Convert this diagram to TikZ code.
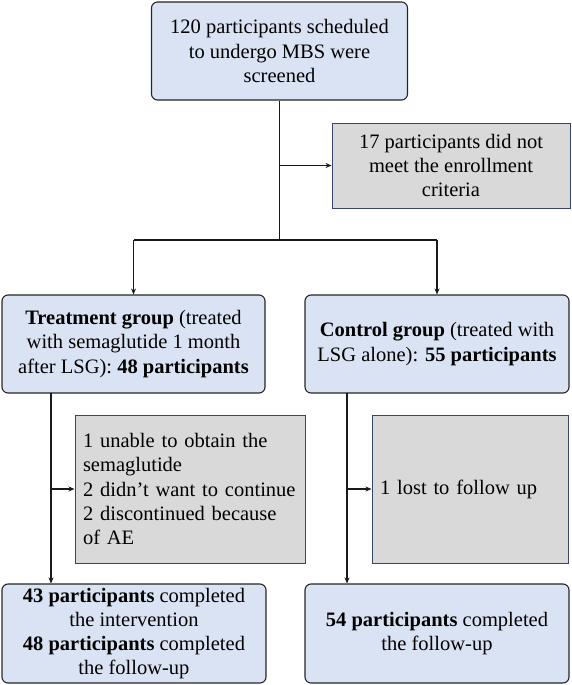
\documentclass[tikz,border=0pt]{standalone}
\usepackage{fontspec}
\IfFontExistsTF{LiberationSerif-Regular.ttf}{%
  \setmainfont{LiberationSerif}[Extension=.ttf,UprightFont=*-Regular,BoldFont=*-Bold,ItalicFont=*-Italic,BoldItalicFont=*-BoldItalic]}{%
  \setmainfont{Liberation Serif}}
\usetikzlibrary{arrows.meta}
\definecolor{bluefill}{HTML}{DAE3F3}
\definecolor{grayfill}{HTML}{D9D9D9}
\definecolor{grayedge}{HTML}{34466A}
\begin{document}
\begin{tikzpicture}[x=1pt,y=-1pt,
  bluebox/.style={draw=black!85, fill=bluefill, rounded corners=6pt, line width=1.1pt, inner sep=0pt, align=center, font=\fontsize{20.5}{24.2}\selectfont},
  graybox/.style={draw=grayedge, fill=grayfill, line width=1pt, inner sep=0pt, font=\fontsize{20.5}{24.2}\selectfont},
  conn/.style={line width=1.2pt, draw=black!90},
  arr/.style={conn, -{Stealth[length=6pt,width=5pt]}}]
\useasboundingbox (0,0) rectangle (572,685);

\node[bluebox, minimum width=256pt, minimum height=98pt] (screen) at (279.5,51) {120 participants scheduled\\to undergo MBS were\\screened};
\node[graybox, align=center, minimum width=238pt, minimum height=85pt] (excl) at (451,165.5) {17 participants did not\\meet the enrollment\\criteria};
\node[bluebox, minimum width=263pt, minimum height=98pt] (treat) at (133.5,344) {\textbf{Treatment group} (treated\\with semaglutide 1 month\\after LSG): \textbf{48 participants}};
\node[bluebox, minimum width=264pt, minimum height=98pt] (ctrl) at (437,344) {\textbf{Control group} (treated with\\LSG alone): \textbf{55 participants}};
\node[graybox, align=left, text width=214pt, minimum width=230pt, minimum height=148pt] (sideT) at (190,489) {1 unable to obtain the\\semaglutide\\2 didn’t want to continue\\2 discontinued because\\of AE};
\node[graybox, align=left, text width=180pt, minimum width=196pt, minimum height=148pt] (sideC) at (470,489) {1 lost to follow up};
\node[bluebox, minimum width=264pt, minimum height=99pt] (doneL) at (134,633.5) {\textbf{43 participants} completed\\the intervention\\\textbf{48 participants} completed\\the follow-up};
\node[bluebox, minimum width=264pt, minimum height=99pt] (doneR) at (437,633.5) {\textbf{54 participants} completed\\the follow-up};

\coordinate (split) at (279.5,240);
\coordinate (sl) at (133.5,240);
\coordinate (sr) at (437,240);
\coordinate (tl) at (51,393);
\coordinate (cl) at (347,393);

\draw[conn] (screen.south) -- (split);
\draw[arr] (screen.south |- excl.west) -- (excl.west);
\draw[conn] (sl) -- (sr);
\draw[arr] (sl) -- (treat.north);
\draw[arr] (sr) -- (ctrl.north);
\draw[arr] (tl) -- (tl |- doneL.north);
\draw[arr] (tl |- sideT.west) -- (sideT.west);
\draw[arr] (cl) -- (cl |- doneR.north);
\draw[arr] (cl |- sideC.west) -- (sideC.west);
\end{tikzpicture}
\end{document}
